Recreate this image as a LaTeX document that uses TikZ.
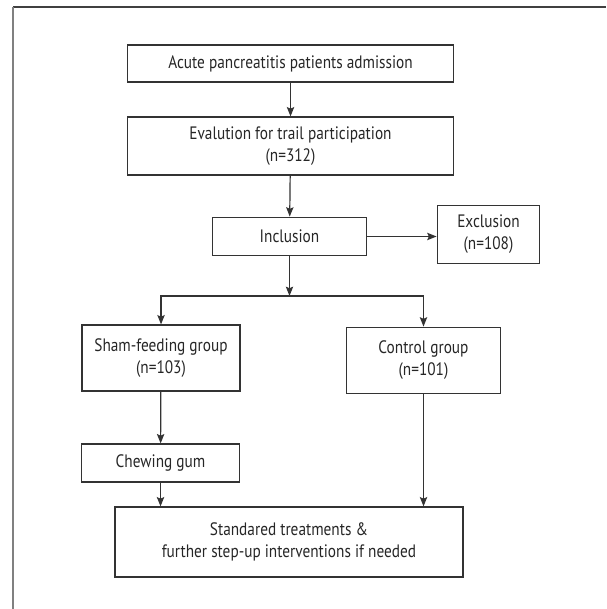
\documentclass[tikz,border=0pt]{standalone}
\usepackage{fontspec}
\setmainfont[FakeStretch=0.85]{PT Sans}
\usepackage{tikz}
\usepackage{xcolor}
\usetikzlibrary{arrows.meta}
\definecolor{boxline}{HTML}{333333}

\begin{document}
\begin{tikzpicture}[x=0.75pt,y=-0.75pt]
			\useasboundingbox (0,0) rectangle (606,609);
			\draw[line width=1.1pt,color=black!75] (13,7) -- (606,7);
			\draw[line width=1.5pt,color=black!50] (13,7) -- (13,609);
			\tikzstyle{every node}=[draw=boxline,line width=0.9pt,inner sep=0pt,align=center,text=black!85,font=\fontsize{13.5}{16.5}\selectfont]
			\tikzstyle{arr}=[draw=boxline,line width=0.9pt,-{Stealth[length=7pt,width=5.5pt,inset=1.2pt]}]
			\node[minimum width=244pt,minimum height=27.75pt] (adm) at (290.5,63.5) {Acute pancreatitis patients admission};
			\node[minimum width=245pt,minimum height=43.5pt] (eval) at (290.5,146) {Evalution for trail participation\\(n=312)};
			\node[minimum width=116pt,minimum height=29pt] (incl) at (289.5,236.5) {Inclusion};
			\node[minimum width=77pt,minimum height=43pt] (excl) at (488.5,234.5) {Exclusion\\(n=108)};
			\node[minimum width=118.5pt,minimum height=49.5pt] (sham) at (161,358) {Sham-feeding group\\(n=103)};
			\node[minimum width=116pt,minimum height=50pt] (ctrl) at (423.5,360.5) {Control group\\(n=101)};
			\node[minimum width=118pt,minimum height=28.5pt] (chew) at (160.5,463) {Chewing gum};
			\node[minimum width=261pt,minimum height=52.5pt] (std) at (289,542) {Standared treatments \&\\further step-up interventions if needed};
			\coordinate (split) at (289.5,296);%branch
			\draw[arr] (adm) -- (eval);
			\draw[arr] (eval) -- (incl);
			\draw[arr] (incl.east) -- (excl.west |- incl.east);
			\draw[arr] (incl) -- (split);
			\draw[arr] (split) -| (sham.north);
			\draw[arr] (split) -| (ctrl.north);
			\draw[arr] (sham) -- (chew);
			\draw[arr] (chew) -- (chew.south |- std.north);
			\draw[arr] (ctrl) -- (ctrl.south |- std.north);
		\end{tikzpicture}
\end{document}
